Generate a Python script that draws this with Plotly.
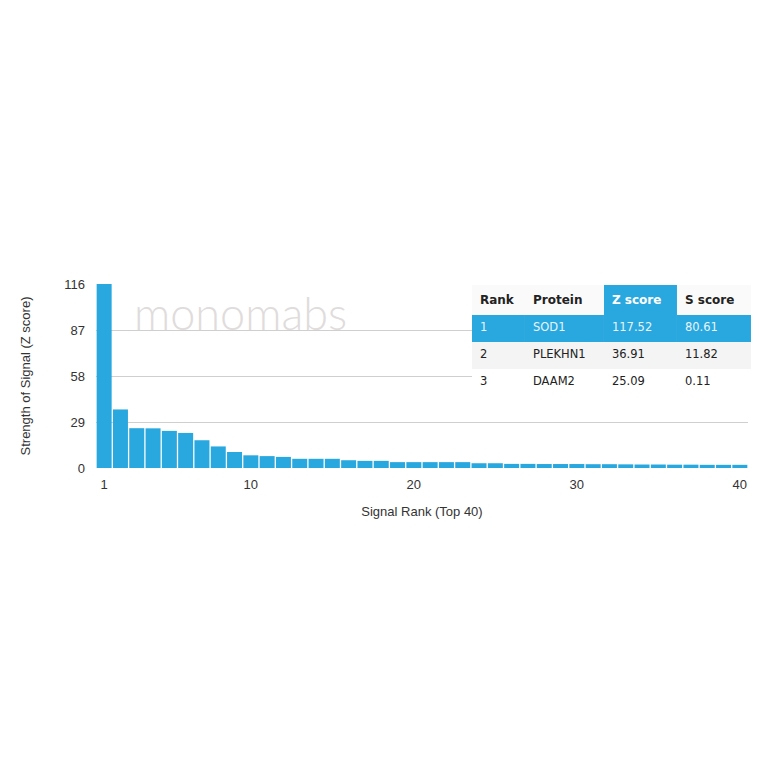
import plotly.graph_objects as go

# ---- data ----
ranks = list(range(1, 41))
z_scores = [117.52, 36.91, 25.09, 25.0, 23.4, 22.1, 17.5, 13.6, 10.1, 8.0,
            7.5, 7.0, 5.8, 5.8, 5.8, 4.9, 4.5, 4.5, 3.7, 3.7,
            3.7, 3.7, 3.7, 3.0, 3.0, 2.6, 2.6, 2.5, 2.5, 2.5,
            2.4, 2.4, 2.3, 2.2, 2.2, 2.1, 2.1, 2.0, 2.0, 2.0]
y_ticks = [0, 29, 58, 87, 116]
x_ticks = [1, 10, 20, 30, 40]

tbl_rank = ["1", "2", "3"]
tbl_protein = ["SOD1", "PLEKHN1", "DAAM2"]
tbl_z = ["117.52", "36.91", "25.09"]
tbl_s = ["80.61", "11.82", "0.11"]
tbl_headers = ["Rank", "Protein", "Z score", "S score"]

BLUE = "#29a7df"

fig = go.Figure()
fig.add_trace(go.Bar(x=ranks, y=z_scores, marker=dict(color=BLUE, line=dict(width=0)),
                     showlegend=False, hoverinfo="x+y"))

row_fill = [BLUE, "#f4f4f4", "#ffffff"]
row_font = ["#e8f4fb", "#222222", "#222222"]
fig.add_trace(go.Table(
    domain=dict(x=[0.574, 1.0], y=[0.3, 0.997]),
    columnwidth=[53, 79, 73, 74],
    header=dict(values=["<b>%s</b>" % h for h in tbl_headers],
                fill=dict(color=["#fafafa", "#fafafa", BLUE, "#fafafa"]),
                font=dict(family="DejaVu Sans", size=12,
                          color=["#222222", "#222222", "#ffffff", "#222222"]),
                align="left", height=27, line=dict(width=0)),
    cells=dict(values=[tbl_rank, tbl_protein, tbl_z, tbl_s],
               fill=dict(color=[row_fill] * 4),
               font=dict(family="DejaVu Sans", size=11.5, color=[row_font] * 4),
               align="left", height=27, line=dict(width=0)),
))

fig.add_annotation(text="monomabs", xref="paper", yref="paper", x=0.221, y=0.845,
                   showarrow=False,
                   font=dict(family="Lato", size=45, color="#e0dcdc", weight=300),
                   xanchor="center", yanchor="middle")

fig.update_layout(
    width=756, height=756, autosize=False,
    margin=dict(l=88, r=13, t=276, b=296),
    paper_bgcolor="white", plot_bgcolor="white",
    bargap=0.08,
    font=dict(family="Liberation Sans", size=13, color="#333333"),
    xaxis=dict(domain=[0, 0.9954], range=[0.5, 40.5], tickvals=x_ticks,
               showgrid=False, zeroline=False, showline=False,
               tickfont=dict(size=13, color="#333333"), ticklabelstandoff=7,
               title=dict(text="Signal Rank (Top 40)", font=dict(size=13), standoff=15)),
    yaxis=dict(range=[0, 116], tickvals=y_ticks, showgrid=True, gridcolor="#cfcfcf",
               gridwidth=1, zeroline=False, showline=False,
               tickfont=dict(size=13, color="#333333"), ticklabelstandoff=10,
               title=dict(text="Strength of Signal (Z score)", font=dict(size=13), standoff=30)),
)

fig.write_html("out.html")
